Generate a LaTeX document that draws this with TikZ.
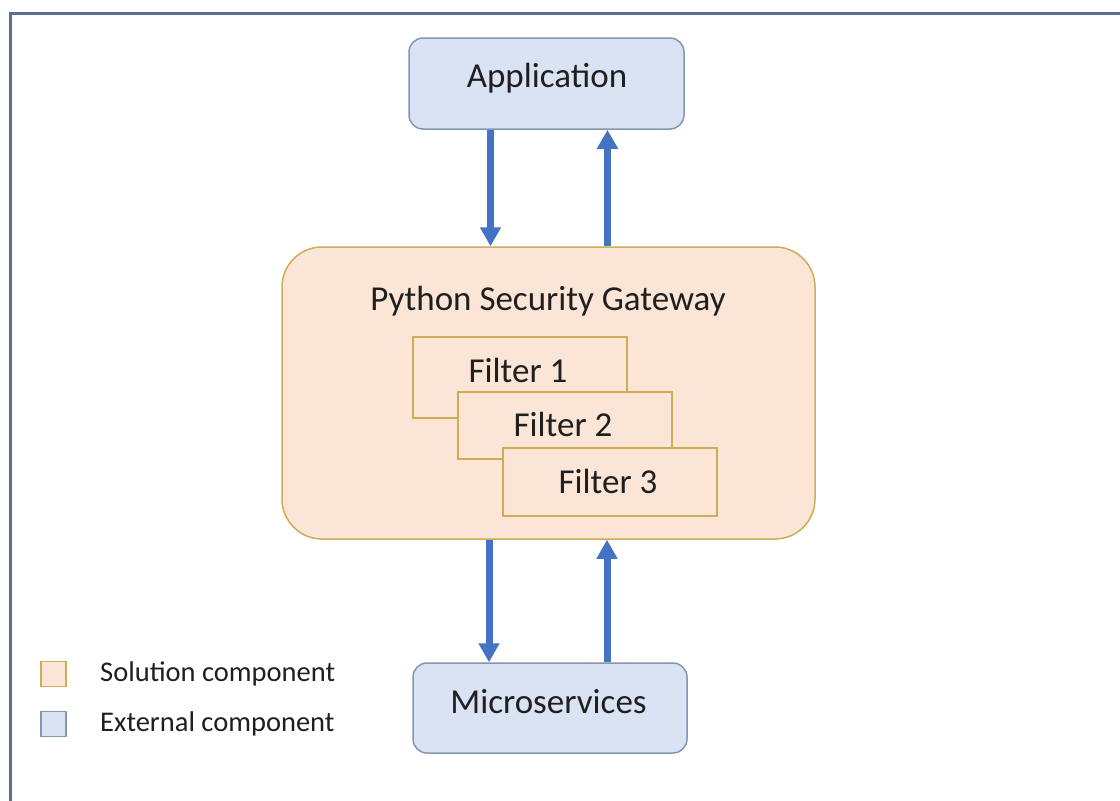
\documentclass[tikz,border=0pt]{standalone}
\usepackage{fontspec}
\setmainfont{Carlito}
\usetikzlibrary{arrows.meta}

\definecolor{extfill}{HTML}{DAE3F3}
\definecolor{extline}{HTML}{8497B0}
\definecolor{solfill}{HTML}{FBE5D6}
\definecolor{solline}{HTML}{CDAD55}
\definecolor{flow}{HTML}{4472C4}
\definecolor{framecol}{HTML}{5A6E8F}

\tikzset{
  extbox/.style={draw=extline, fill=extfill, line width=1.5pt, rounded corners=14pt,
                 inner sep=0pt, minimum width=#1},
  gwbox/.style={draw=solline, fill=solfill, line width=1.5pt, rounded corners=40pt,
                inner sep=0pt},
  filterbox/.style={draw=solline, fill=solfill, line width=1.5pt, inner sep=0pt,
                    minimum width=214pt},
  bigtext/.style={font=\fontsize{35}{42}\selectfont, text=black!88, inner sep=0pt, anchor=base},
  legtext/.style={font=\fontsize{28.5}{34}\selectfont, text=black!88, inner sep=0pt, anchor=base west},
  flowarrow/.style={draw=flow, line width=7pt, -{Triangle[width=20pt,length=19pt]}},
  legsquare/.style={line width=1.2pt, inner sep=0pt, minimum size=25pt},
}

\begin{document}
\begin{tikzpicture}[x=1pt, y=-1pt]
  \useasboundingbox (0,0) rectangle (1120,801);

  % outer frame (top and left edges)
  \draw[framecol, line width=3pt] (1125,13.5) -- (10,13.5) -- (10,806);

  % external component: application
  \node[extbox=275pt, minimum height=91pt] (app) at (546.5,83.5) {};
  \node[bigtext] (apptext) at (547,87) {Application};

  % solution component: gateway with its filter chain
  \node[gwbox, minimum width=533pt, minimum height=292pt] (gw) at (548.5,393) {};
  \node[bigtext] (gwtext) at (548,310) {Python Security Gateway};

  \node[filterbox, minimum height=81pt] (f1) at (520,377.5) {};
  \node[bigtext] (f1text) at (518,382) {Filter 1};
  \node[filterbox, minimum height=67pt] (f2) at (565,425.5) {};
  \node[bigtext] (f2text) at (563,436) {Filter 2};
  \node[filterbox, minimum height=68pt] (f3) at (610,482) {};
  \node[bigtext] (f3text) at (608,493) {Filter 3};

  % external component: microservices
  \node[extbox=274pt, minimum height=90pt] (ms) at (550,708) {};
  \node[bigtext] (mstext) at (548.5,713) {Microservices};

  % arrow columns
  \coordinate (colA) at (490.5,0);
  \coordinate (colB) at (607.5,0);
  \coordinate (colC) at (489,0);
  \coordinate (colD) at (607,0);

  \draw[flowarrow] (app.south -| colA) -- (gw.north -| colA);
  \draw[flowarrow] (gw.north -| colB) -- (app.south -| colB);
  \draw[flowarrow] (gw.south -| colC) -- (ms.north -| colC);
  \draw[flowarrow] (ms.north -| colD) -- (gw.south -| colD);

  % legend
  \node[legsquare, draw=solline, fill=solfill] (legsol) at (53.5,674) {};
  \node[legtext] (legsoltext) at (100,681) {Solution component};
  \node[legsquare, draw=extline, fill=extfill] (legext) at (53.5,724) {};
  \node[legtext] (legexttext) at (100,731) {External component};
\end{tikzpicture}
\end{document}
